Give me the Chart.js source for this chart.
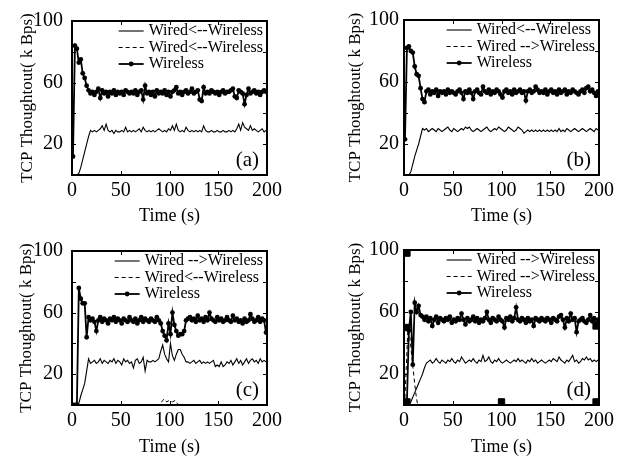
<!DOCTYPE html>
<html>
<head>
<meta charset="utf-8">
<script src="https://cdn.jsdelivr.net/npm/chart.js@4.4.0/dist/chart.umd.min.js"></script>
<style>
  body { margin: 0; background: #fff; }
  #wrap { position: relative; width: 625px; height: 461px; background: #fff; }
  canvas { position: absolute; }
</style>
</head>
<body>
<div id="wrap">
  <canvas id="chartA" width="312" height="230" style="left:0;top:0"></canvas>
  <canvas id="chartB" width="313" height="230" style="left:312px;top:0"></canvas>
  <canvas id="chartC" width="312" height="231" style="left:0;top:230px"></canvas>
  <canvas id="chartD" width="313" height="231" style="left:312px;top:230px"></canvas>
</div>
<script>
// sample times (s) shared by the wired (solid) and wireless series
const timeAxis = [
  1, 3, 5, 7, 9, 11, 13, 15, 17, 19,
  21, 23, 25, 27, 29, 31, 33, 35, 37, 39,
  41, 43, 45, 47, 49, 51, 53, 55, 57, 59,
  61, 63, 65, 67, 69, 71, 73, 75, 77, 79,
  81, 83, 85, 87, 89, 91, 93, 95, 97, 99,
  101, 103, 105, 107, 109, 111, 113, 115, 117, 119,
  121, 123, 125, 127, 129, 131, 133, 135, 137, 139,
  141, 143, 145, 147, 149, 151, 153, 155, 157, 159,
  161, 163, 165, 167, 169, 171, 173, 175, 177, 179,
  181, 183, 185, 187, 189, 191, 193, 195, 197, 199
];

const xTicks = [0, 50, 100, 150, 200];
const yTickLabels = [20, 60, 100];

// panel (a)
const wiredA = [
  0, 0, 0, 1, 5, 10, 15, 20, 25, 29,
  28, 29, 28, 29, 30, 32, 29, 33, 29, 28,
  29, 27, 29, 28, 28, 29, 28, 31, 28, 29,
  28, 29, 28, 29, 30, 28, 31, 29, 28, 29,
  28, 29, 28, 29, 30, 29, 28, 29, 28, 30,
  29, 32, 29, 33, 29, 28, 29, 28, 31, 29,
  28, 29, 28, 29, 28, 29, 28, 32, 29, 28,
  28, 29, 28, 28, 29, 28, 28, 29, 28, 28,
  29, 28, 29, 28, 30, 33, 29, 34, 31, 30,
  29, 32, 29, 30, 29, 28, 29, 30, 28, 29
];
const dashTimeA = [0, 200];
const dashA = [0, 0];
const wirelessA = [
  12, 84, 82, 73, 75, 66, 63, 58, 55, 53,
  54, 52, 54, 56, 50, 55, 53, 54, 51, 54,
  53, 55, 52, 54, 53, 54, 52, 55, 54, 53,
  54, 53, 55, 52, 54, 55, 49, 58, 53, 54,
  52, 54, 51, 55, 53, 54, 53, 55, 52, 54,
  51, 54, 55, 57, 53, 54, 52, 54, 55, 53,
  54, 56, 53, 54, 55, 49, 48, 57, 53, 54,
  53, 55, 54, 53, 54, 52, 54, 55, 53, 54,
  54, 55, 56, 51, 50, 55, 54, 53, 46, 52,
  56, 53, 54, 55, 53, 54, 52, 54, 55, 54
];

// panel (b)
const wiredB = [
  0, 0, 0, 2, 7, 12, 16, 20, 25, 30,
  29, 30, 28, 29, 30, 29, 28, 30, 29, 28,
  29, 30, 31, 29, 28, 30, 29, 28, 29, 30,
  29, 31, 30, 31, 29, 28, 29, 30, 29, 28,
  29, 30, 31, 29, 28, 29, 30, 29, 31, 30,
  29, 28, 29, 31, 30, 29, 28, 29, 31, 30,
  29, 27, 28, 29, 28, 29, 28, 29, 28, 29,
  28, 29, 28, 29, 28, 29, 28, 29, 28, 30,
  28, 29, 28, 30, 29, 28, 29, 30, 29, 28,
  29, 30, 29, 28, 29, 30, 29, 28, 30, 29
];
const dashTimeB = [0, 200];
const dashB = [0, 0];
const wirelessB = [
  23, 82, 83, 80, 79, 70, 65, 64, 56, 49,
  47, 54, 55, 52, 54, 53, 55, 51, 54, 53,
  54, 52, 55, 53, 54, 53, 52, 54, 55, 53,
  49, 54, 53, 55, 53, 49, 54, 55, 53, 52,
  57, 54, 53, 55, 52, 54, 53, 55, 54, 52,
  50, 54, 55, 53, 54, 52, 55, 53, 54, 55,
  53, 54, 48, 54, 55, 53, 54, 57, 55, 53,
  54, 53, 55, 52, 54, 55, 53, 54, 52, 55,
  53, 54, 55, 52, 54, 53, 55, 54, 53, 52,
  54, 55, 53, 56, 57, 54, 55, 53, 51, 54
];

// panel (c)
const wiredC = [
  0, 0, 0, 1, 6, 10, 14, 22, 30, 27,
  28, 29, 27, 28, 30, 27, 29, 28, 27, 29,
  28, 30, 27, 29, 28, 26, 30, 28, 29, 27,
  28, 24, 29, 30, 27, 28, 31, 22, 29, 28,
  28, 29, 28, 29, 30, 35, 39, 33, 30, 28,
  40, 32, 29, 33, 36, 36, 33, 31, 28, 28,
  27, 28, 29, 27, 28, 29, 27, 28, 27, 28,
  27, 28, 29, 25, 26, 25, 28, 25, 26, 28,
  27, 29, 26, 28, 30, 27, 29, 26, 28, 30,
  27, 29, 30, 28, 29, 27, 30, 28, 29, 28
];
const dashTimeC = [0, 90, 93, 95, 97, 100, 103, 106, 108, 110, 200];
const dashC = [0, 0, 3, 4, 2, 3, 2, 3, 1, 0, 0];
const wirelessC = [
  0, 0, 0, 76, 69, 66, 66, 44, 57, 55,
  56, 54, 48, 55, 57, 54, 56, 55, 53, 56,
  55, 57, 54, 56, 55, 53, 56, 55, 54, 57,
  55, 54, 56, 53, 55, 57, 54, 56, 55, 54,
  56, 55, 54, 57, 55, 53, 48, 45, 42, 53,
  46, 60, 52, 48, 45, 46, 46, 48, 55, 56,
  57, 55, 56, 54, 58, 55, 56, 54, 57, 55,
  60, 56, 55, 54, 57, 55, 56, 54, 55, 57,
  55, 54, 58, 55, 56, 54, 55, 53, 56, 54,
  55, 59, 56, 54, 55, 57, 54, 56, 55, 47
];

// panel (d)
const wiredD = [
  0, 0, 0, 2, 5, 8, 11, 14, 17, 20,
  24, 27, 28, 29, 27, 28, 30, 28, 27, 29,
  28, 27, 29, 28, 30, 28, 27, 29, 28, 31,
  29, 27, 28, 29, 28, 30, 28, 27, 29, 28,
  32, 28, 29, 31, 28, 27, 29, 28, 30, 28,
  27, 28, 29, 28, 27, 28, 29, 28, 30, 28,
  29, 28, 27, 29, 28, 30, 28, 29, 27, 28,
  29, 28, 27, 28, 29, 28, 30, 29, 28, 31,
  29, 28, 27, 29, 28, 30, 32, 28, 29, 27,
  28, 30, 29, 31, 29, 30, 28, 29, 28, 29
];
const dashTimeD = [0, 1, 4, 6, 9, 12, 14, 200];
const dashD = [0, 5, 49, 44, 25, 8, 0, 0];
const wirelessD = [
  0, 2, 48, 60, 26, 66, 60, 64, 58, 57,
  55, 57, 54, 56, 51, 55, 57, 53, 56, 55,
  54, 56, 55, 57, 53, 55, 54, 56, 55, 59,
  55, 52, 56, 54, 55, 57, 54, 56, 53, 55,
  54, 56, 60, 55, 53, 56, 55, 54, 57, 55,
  54, 50, 56, 55, 57, 54, 56, 63, 55, 54,
  56, 55, 53, 56, 54, 55, 51, 56, 55, 54,
  56, 55, 54, 56, 55, 53, 56, 55, 54, 57,
  58, 55, 50, 56, 54, 59, 55, 56, 47, 54,
  55, 56, 54, 53, 55, 58, 54, 56, 52, 55
];
// the stray square markers in panel (d)
const squareTimeD = [3, 3, 3, 100, 197, 197];
const squareD = [98, 50, 2, 2, 2, 51];

const SERIF = '"Liberation Serif", "Times New Roman", serif';

function pts(xs, ys) {
  return xs.map((x, i) => ({ x: x, y: ys[i] }));
}

// box, inward ticks, in-plot legend and the (a)..(d) tag
const panelDecor = {
  id: 'panelDecor',
  afterDraw(chart, args, opts) {
    const ctx = chart.ctx;
    const a = chart.chartArea;
    const sx = chart.scales.x, sy = chart.scales.y;
    ctx.save();
    ctx.strokeStyle = '#000';
    ctx.lineWidth = 1;
    ctx.setLineDash([]);
    ctx.beginPath();
    sy.ticks.forEach(t => {
      const py = Math.round(sy.getPixelForValue(t.value)) + 0.5;
      ctx.moveTo(a.left, py); ctx.lineTo(a.left + 4, py);
      ctx.moveTo(a.right - 4, py); ctx.lineTo(a.right, py);
    });
    sx.ticks.forEach(t => {
      const px = Math.round(sx.getPixelForValue(t.value)) + 0.5;
      ctx.moveTo(px, a.bottom); ctx.lineTo(px, a.bottom - 4);
      ctx.moveTo(px, a.top); ctx.lineTo(px, a.top + 4);
    });
    ctx.stroke();

    ctx.lineWidth = 2;
    ctx.strokeRect(a.left, a.top, a.right - a.left, a.bottom - a.top);

    // legend
    ctx.font = '16px ' + SERIF;
    ctx.fillStyle = '#000';
    ctx.textBaseline = 'middle';
    ctx.textAlign = 'left';
    const items = chart.data.datasets.filter(d => d.label);
    let maxW = 0;
    items.forEach(d => { maxW = Math.max(maxW, ctx.measureText(d.label).width); });
    const textLeft = a.right - 4 - maxW;
    items.forEach((d, i) => {
      const y = a.top + 10 + i * 16.5;
      ctx.lineWidth = d.borderWidth;
      ctx.setLineDash(d.borderDash || []);
      ctx.beginPath();
      ctx.moveTo(textLeft - 30, y);
      ctx.lineTo(textLeft - 5, y);
      ctx.stroke();
      ctx.setLineDash([]);
      if (d.pointRadius > 0) {
        ctx.beginPath();
        ctx.arc(textLeft - 17.5, y, d.pointRadius, 0, Math.PI * 2);
        ctx.fill();
      }
      ctx.fillText(d.label, textLeft, y);
    });

    // panel tag
    ctx.font = '21px ' + SERIF;
    ctx.textAlign = 'right';
    ctx.fillText(opts.tag, a.right - 8, a.bottom - 15);
    ctx.restore();
  }
};

function makePanel(id, p) {
  const canvas = document.getElementById(id);
  const datasets = [
    { label: p.labels[0], data: pts(timeAxis, p.wired), borderColor: '#000', borderWidth: 1.1, pointRadius: 0, tension: 0 },
    { label: p.labels[1], data: pts(p.dashTime, p.dash), borderColor: '#000', borderWidth: 1, borderDash: [4, 3], pointRadius: 0, tension: 0 },
    { label: 'Wireless', data: pts(timeAxis, p.wireless), borderColor: '#000', borderWidth: 1.8, pointRadius: 2.4, pointBackgroundColor: '#000', pointBorderColor: '#000', pointBorderWidth: 0, tension: 0 }
  ];
  if (p.squares) {
    datasets.push({ data: pts(p.squares[0], p.squares[1]), showLine: false, pointStyle: 'rect', pointRadius: 4.5, pointBackgroundColor: '#000', pointBorderColor: '#000', borderColor: '#000' });
  }

  new Chart(canvas, {
    type: 'line',
    data: { datasets: datasets },
    options: {
      responsive: false,
      animation: false,
      events: [],
      devicePixelRatio: 1,
      layout: { padding: { left: 0, top: p.top, right: canvas.width - p.right, bottom: 0 } },
      plugins: {
        legend: { display: false },
        tooltip: { enabled: false },
        panelDecor: { tag: p.tag }
      },
      scales: {
        x: {
          type: 'linear', min: 0, max: 200,
          grid: { display: false, drawTicks: false },
          border: { display: false },
          afterBuildTicks: s => { s.ticks = xTicks.map(v => ({ value: v })); },
          ticks: { color: '#000', padding: 4, maxRotation: 0, autoSkip: false, font: { family: SERIF, size: 20 } },
          title: { display: true, text: 'Time (s)', color: '#000', font: { family: SERIF, size: 18 }, padding: { top: 0, bottom: 3 } },
          afterFit: s => { s.height = canvas.height - p.bottom; }
        },
        y: {
          min: 0, max: 100,
          grid: { display: false, drawTicks: false },
          border: { display: false },
          ticks: {
            stepSize: 20, color: '#000', padding: p.tickPad, font: { family: SERIF, size: 20 },
            callback: v => yTickLabels.includes(v) ? String(v) : ''
          },
          title: { display: true, text: 'TCP Thoughtout( k Bps)', color: '#000', font: { family: SERIF, size: 17 }, padding: { top: p.titlePad, bottom: 0 } },
          afterFit: s => { s.width = p.left; }
        }
      }
    },
    plugins: [panelDecor]
  });
}

makePanel('chartA', { tag: '(a)', labels: ['Wired<--Wireless', 'Wired<--Wireless'], wired: wiredA, dashTime: dashTimeA, dash: dashA, wireless: wirelessA,
  left: 72, right: 267, top: 20, bottom: 175, tickPad: 9, titlePad: 17 });
makePanel('chartB', { tag: '(b)', labels: ['Wired<--Wireless', 'Wired -->Wireless'], wired: wiredB, dashTime: dashTimeB, dash: dashB, wireless: wirelessB,
  left: 92, right: 287, top: 20, bottom: 175, tickPad: 5, titlePad: 33 });
makePanel('chartC', { tag: '(c)', labels: ['Wired -->Wireless', 'Wired<--Wireless'], wired: wiredC, dashTime: dashTimeC, dash: dashC, wireless: wirelessC,
  left: 72, right: 267, top: 20, bottom: 175, tickPad: 9, titlePad: 16 });
makePanel('chartD', { tag: '(d)', labels: ['Wired -->Wireless', 'Wired -->Wireless'], wired: wiredD, dashTime: dashTimeD, dash: dashD, wireless: wirelessD,
  squares: [squareTimeD, squareD],
  left: 92, right: 287, top: 20, bottom: 175, tickPad: 5, titlePad: 33 });
</script>
</body>
</html>
